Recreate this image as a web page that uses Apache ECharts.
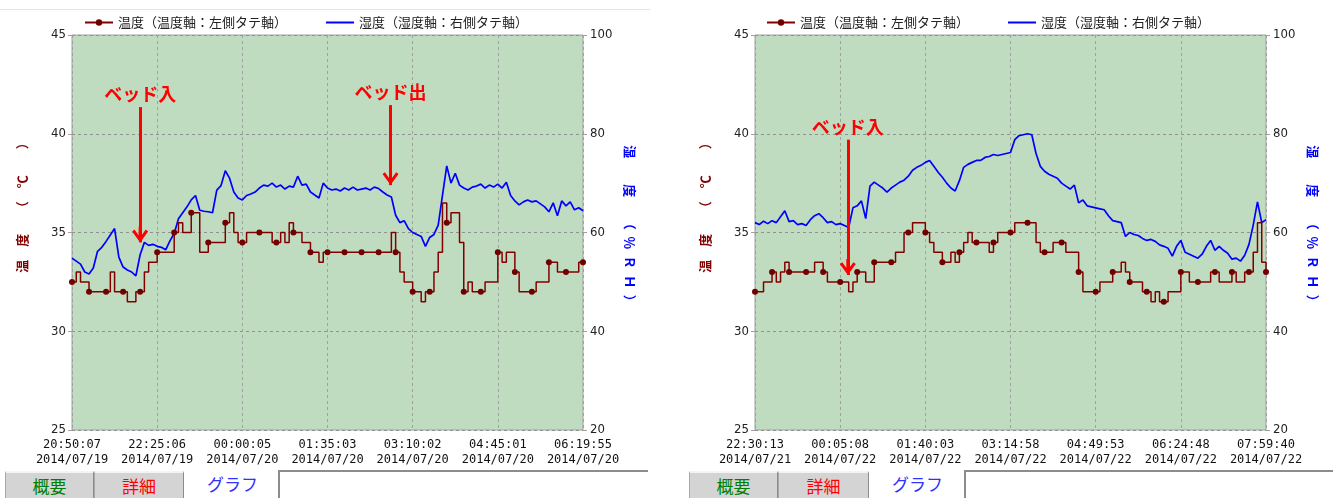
<!DOCTYPE html>
<html>
<head>
<meta charset="utf-8">
<script src="https://cdn.jsdelivr.net/npm/echarts@6/dist/echarts.min.js"></script>
<style>
  body { margin: 0; background: #fff; width: 1333px; height: 498px; position: relative; overflow: hidden;
         font-family: "Noto Sans CJK JP", sans-serif; }
  .chart { position: absolute; top: 0; height: 470px; }
  .topline { position: absolute; top: 9px; left: 0; width: 650px; height: 1px; background: #e4e4e4; }
  .tab { position: absolute; top: 471px; height: 27px; box-sizing: border-box; background: #d4d4d4;
         border-top: 2px solid #f4f4f4; border-left: 1px solid #a8a8a8; border-right: 1px solid #8c8c8c;
         font-size: 17px; line-height: 25px; text-align: center; }
  .sel { position: absolute; top: 471px; height: 27px; font-size: 17px; line-height: 25px; text-align: center;
         color: #3030ff; }
  .box { position: absolute; top: 470px; height: 28px; box-sizing: border-box; background: #fff;
         border-top: 2px solid #8c8c8c; border-left: 2px solid #8c8c8c; }
</style>
</head>
<body>
<div class="topline"></div>
<div id="left" class="chart" style="left:0;width:660px"></div>
<div id="right" class="chart" style="left:660px;width:673px"></div>

<div class="tab" style="left:5px;width:89px;color:#008000">概要</div>
<div class="tab" style="left:94px;width:90px;color:#ff0000">詳細</div>
<div class="sel" style="left:190px;width:85px">グラフ</div>
<div class="box" style="left:278px;width:370px"></div>

<div class="tab" style="left:689px;width:89px;color:#008000">概要</div>
<div class="tab" style="left:778px;width:91px;color:#ff0000">詳細</div>
<div class="sel" style="left:875px;width:85px">グラフ</div>
<div class="box" style="left:964px;width:369px"></div>

<script>
// x軸の目盛り（7本、サンプル番号 0,20,...,120 に対応）
const leftTicks = ['20:50:07\n2014/07/19', '22:25:06\n2014/07/19', '00:00:05\n2014/07/20', '01:35:03\n2014/07/20',
                   '03:10:02\n2014/07/20', '04:45:01\n2014/07/20', '06:19:55\n2014/07/20'];
const rightTicks = ['22:30:13\n2014/07/21', '00:05:08\n2014/07/22', '01:40:03\n2014/07/22', '03:14:58\n2014/07/22',
                    '04:49:53\n2014/07/22', '06:24:48\n2014/07/22', '07:59:40\n2014/07/22'];

// 左グラフ 温度(℃) / 湿度(%RH)  121サンプル
const leftTemp = [
  32.5, 33, 32.5, 32.5, 32, 32, 32, 32, 32, 33,
  32, 32, 32, 31.5, 31.5, 32, 32, 33, 33.5, 33.5,
  34, 34, 34, 34, 35, 35.5, 35, 35, 36, 36,
  34, 34, 34.5, 34.5, 34.5, 34.5, 35.5, 36, 35, 34.5,
  34.5, 35, 35, 35, 35, 35, 35, 34.5, 34.5, 35,
  34.5, 35.5, 35, 35, 34.5, 34.5, 34, 34, 33.5, 34,
  34, 34, 34, 34, 34, 34, 34, 34, 34, 34,
  34, 34, 34, 34, 34, 35, 34, 33, 32.5, 32.5,
  32, 32, 31.5, 32, 32, 33, 34, 36.5, 35.5, 36,
  36, 34.5, 32, 32.5, 32, 32, 32, 32.5, 32.5, 32.5,
  34, 33.5, 34, 34, 33, 32, 32, 32, 32, 32.5,
  32.5, 32.5, 33.5, 33.5, 33, 33, 33, 33, 33, 33.5, 33.5
];
const leftHum = [
  54.8, 54.2, 53.6, 52, 51.6, 52.8, 56.2, 57, 58.2, 59.5,
  60.8, 55, 53, 52.4, 52, 51.2, 55.5, 58, 57.4, 57.6,
  57.2, 57, 56.5, 58.3, 59.8, 62.8, 64, 65.2, 66.6, 67.5,
  64.5, 64.3, 64.2, 64, 68.6, 69.5, 72.5, 71, 68.2, 67,
  66.6, 67.5, 67.8, 68.2, 69, 69.6, 69.4, 70, 69.2, 69.6,
  68.8, 69.4, 69.2, 71.4, 69.6, 69.8, 68.2, 67.6, 67, 70,
  69, 68.6, 68.8, 68.4, 69, 68.6, 69.2, 68.6, 68.8, 69,
  68.6, 69.2, 68.9, 68.2, 67.6, 67.2, 63.5, 62, 62.4, 60.8,
  60, 59.6, 59.2, 57.2, 59, 59.6, 61.5, 67.5, 73.5, 70,
  72, 69.6, 69, 68.6, 69.2, 69.4, 69.8, 69, 69.6, 69.2,
  69.8, 69, 70.2, 67.5, 66.4, 65.6, 66.2, 66.6, 66.2, 66.4,
  65.8, 65.2, 64.2, 66, 63.4, 66.4, 65.4, 66.2, 64.6, 65, 64.4
];

// 右グラフ
const rightTemp = [
  32, 32, 32.5, 32.5, 33, 32.5, 33, 33.5, 33, 33,
  33, 33, 33, 33, 33.5, 33.5, 33, 32.5, 32.5, 32.5,
  32.5, 32.5, 32, 32.5, 33, 33, 32.5, 32.5, 33.5, 33.5,
  33.5, 33.5, 33.5, 34, 34, 35, 35, 35.5, 35.5, 35.5,
  35, 34.5, 34, 34, 33.5, 33.5, 34, 33.5, 34, 34.5,
  35, 34.5, 34.5, 34.5, 34.5, 34, 34.5, 35, 35, 35,
  35, 35.5, 35.5, 35.5, 35.5, 35.5, 34.5, 34, 34, 34,
  34.5, 34.5, 34.5, 34, 34, 34, 33, 32, 32, 32,
  32, 32.5, 32.5, 32.5, 33, 33, 33.5, 33, 32.5, 32.5,
  32.5, 32, 32, 31.5, 32, 31.5, 31.5, 32, 32, 32,
  33, 33, 32.5, 32.5, 32.5, 32.5, 32.5, 33, 33, 32.5,
  32.5, 32.5, 33, 32.5, 32.5, 33, 33, 34, 35.5, 33.5, 33
];
const rightHum = [
  62, 61.6, 62.3, 61.8, 62.4, 62, 63.2, 64.4, 62.2, 62.4,
  61.6, 61.8, 61.4, 62.6, 63.4, 63.8, 63, 62, 62.2, 61.6,
  61.8, 61.4, 61, 65, 65.4, 66.4, 62.8, 69.4, 70.2, 69.6,
  69, 68.2, 69, 69.6, 70.2, 70.6, 71.4, 72.6, 73.2, 73.6,
  74.2, 74.6, 73.4, 72.2, 71.2, 70, 69, 68.4, 70.5, 73.2,
  73.8, 74.2, 74.6, 74.6, 75.2, 75.4, 75.8, 75.6, 75.8, 76,
  76.2, 78.8, 79.6, 79.8, 80, 79.8, 76, 73.4, 72.4, 71.8,
  71.4, 71, 70, 69.4, 68.8, 69.6, 66, 66.6, 65.4, 65.2,
  65, 64.8, 64.6, 63.4, 62.4, 62.2, 62, 59.2, 60, 59.6,
  59.4, 58.8, 58.4, 58.6, 58.2, 57.5, 57.2, 56.8, 55.2, 57.2,
  58.4, 56, 55.6, 55.2, 54.8, 55.6, 57.2, 58.4, 56.4, 57.2,
  56.4, 55.8, 54.6, 54.8, 54.2, 55.4, 57.6, 61.5, 66.2, 62, 62.6
];

// 注記の矢印 [サンプル位置, 上端℃, 先端℃]
const leftArrows = [['ベッド入', 16, 41.35, 34.5], ['ベッド出', 74.8, 41.45, 37.4]];
const rightArrows = [['ベッド入', 21.8, 39.7, 32.85]];

const TEMP_NAME = '温度（温度軸：左側タテ軸）';
const HUM_NAME = '湿度（湿度軸：右側タテ軸）';
const ARROW_HEAD = 'path://M8,0 L16,11 L13.6,12.8 L9.5,7.2 L9.5,16 L6.5,16 L6.5,7.2 L2.4,12.8 L0,11 Z';

function buildOption(ticks, temp, hum, arrows, legendLeft, gridLeft) {
  const numFont = '"Liberation Sans Narrow", "DejaVu Sans Condensed", sans-serif';
  return {
    animation: false,
    textStyle: { fontFamily: '"Noto Sans CJK JP", sans-serif' },
    legend: {
      left: legendLeft, top: 11, itemWidth: 28, itemHeight: 8, itemGap: 38,
      textStyle: { fontSize: 13, color: '#222' },
      data: [TEMP_NAME, { name: HUM_NAME, itemStyle: { opacity: 0 } }]
    },
    grid: {
      left: gridLeft, top: 35, width: 511, height: 395, show: true,
      backgroundColor: '#c0dcc0', borderColor: '#a0a0a0', borderWidth: 1,
      containLabel: false, outerBoundsMode: 'none'
    },
    xAxis: {
      type: 'value', min: 0, max: 120, interval: 20,
      axisLine: { show: false }, axisTick: { show: false },
      splitLine: { lineStyle: { color: '#a0a0a0', type: [3, 3] } },
      axisLabel: {
        formatter: v => ticks[Math.round(v / 20)],
        fontFamily: '"DejaVu Sans Mono", monospace', fontSize: 12, lineHeight: 15,
        color: '#111', margin: 7, showMinLabel: true, showMaxLabel: true
      }
    },
    yAxis: [
      {
        type: 'value', min: 25, max: 45, interval: 5,
        name: '温　度　　（　℃　　）', nameLocation: 'middle', nameRotate: 90, nameGap: 43,
        nameTextStyle: { color: '#800000', fontSize: 13, fontWeight: 'bold', padding: [0, 0, 0, 56] },
        axisLine: { show: false },
        axisTick: { show: true, length: 4, lineStyle: { color: '#a0a0a0' } },
        axisLabel: { fontFamily: numFont, fontSize: 13, color: '#222', margin: 6 },
        splitLine: { lineStyle: { color: '#909090', type: [3, 3] } }
      },
      {
        type: 'value', min: 20, max: 100, interval: 20, position: 'right',
        name: '湿　　度　　（\u2002％\u2002Ｒ\u2002Ｈ\u2002）', nameLocation: 'middle', nameRotate: -90, nameGap: 30,
        nameTextStyle: { color: '#0000ff', fontSize: 13, fontWeight: 'bold', padding: [0, 12, 0, 0] },
        axisLine: { show: false },
        axisTick: { show: true, length: 4, lineStyle: { color: '#a0a0a0' } },
        axisLabel: { fontFamily: numFont, fontSize: 13, color: '#222', margin: 7 },
        splitLine: { show: false }
      }
    ],
    series: [
      {
        name: HUM_NAME, type: 'line', yAxisIndex: 1, symbol: 'none',
        lineStyle: { color: '#0000ff', width: 1.7 }, itemStyle: { color: '#0000ff' },
        data: hum.map((v, i) => [i, v]), z: 2
      },
      {
        name: TEMP_NAME, type: 'line', yAxisIndex: 0, step: 'end',
        symbol: 'circle', showAllSymbol: true,
        symbolSize: (val, p) => (p.dataIndex % 4 === 0 ? 6 : 0),
        lineStyle: { color: '#800000', width: 1.5 }, itemStyle: { color: '#700000' },
        data: temp.map((v, i) => [i, v]), z: 3,
        markLine: {
          silent: true, animation: false,
          symbol: ['none', ARROW_HEAD], symbolSize: 16, symbolOffset: [[0, 0], [0, 8]],
          lineStyle: { color: '#ff0000', width: 3, type: 'solid' },
          label: {
            show: true, position: 'start', distance: 4, formatter: '{b}',
            color: '#ff0000', fontSize: 18, fontWeight: 'bold'
          },
          data: arrows.map(a => [
            { name: a[0], coord: [a[1], a[2]] },
            { coord: [a[1], a[3]] }
          ])
        }
      }
    ]
  };
}

const leftChart = echarts.init(document.getElementById('left'));
leftChart.setOption(buildOption(leftTicks, leftTemp, leftHum, leftArrows, 79, 72));
const rightChart = echarts.init(document.getElementById('right'));
rightChart.setOption(buildOption(rightTicks, rightTemp, rightHum, rightArrows, 101, 95));
</script>
</body>
</html>
